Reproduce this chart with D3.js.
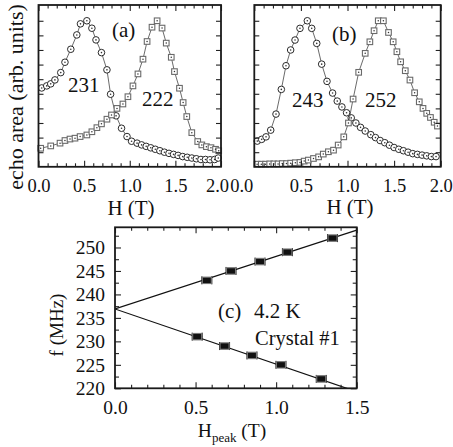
<!DOCTYPE html>
<html><head><meta charset="utf-8">
<script src="https://cdn.jsdelivr.net/npm/d3@7"></script>
<style>
body{margin:0;background:#fff}
</style>
</head><body>
<svg id="chart" width="453" height="447"></svg>
<script>
// ---------- data ----------
// panel (a): 231 MHz (circles) and 222 MHz (squares), normalised echo area vs H (T)
const a231H = [0.035,0.09,0.134,0.18,0.244,0.29,0.354,0.42,0.46,0.53,0.585,0.63,0.69,0.75,0.79,0.85,0.91,0.97,1.02,1.08,1.13,1.18,1.23,1.28,1.33,1.38,1.43,1.48,1.53,1.58,1.63,1.68,1.73,1.78,1.83,1.88,1.93,1.97];
const a231V = [0.54,0.554,0.568,0.595,0.645,0.716,0.805,0.903,0.979,1.0,0.949,0.869,0.782,0.664,0.497,0.349,0.264,0.207,0.175,0.162,0.15,0.14,0.13,0.12,0.11,0.1,0.092,0.085,0.078,0.07,0.065,0.06,0.055,0.05,0.05,0.048,0.05,0.06];
const a222H = [0.024,0.134,0.236,0.29,0.345,0.40,0.456,0.53,0.585,0.64,0.69,0.75,0.80,0.86,0.925,0.98,1.035,1.09,1.145,1.19,1.244,1.30,1.354,1.40,1.455,1.49,1.545,1.585,1.625,1.68,1.745,1.79,1.84,1.89,1.94,1.975];
const a222V = [0.127,0.143,0.162,0.18,0.19,0.196,0.207,0.218,0.24,0.268,0.294,0.326,0.355,0.40,0.43,0.48,0.554,0.636,0.737,0.858,0.956,1.0,0.95,0.847,0.75,0.652,0.538,0.44,0.344,0.234,0.173,0.15,0.138,0.131,0.12,0.11];
// panel (b): 243 MHz (circles) and 252 MHz (squares)
const b243H = [0.032,0.079,0.126,0.176,0.233,0.29,0.34,0.39,0.437,0.49,0.569,0.616,0.67,0.723,0.78,0.84,0.89,0.94,0.99,1.04,1.09,1.14,1.19,1.25,1.30,1.35,1.40,1.45,1.50,1.55,1.60,1.65,1.70,1.75,1.80,1.85,1.90,1.95];
const b243V = [0.176,0.188,0.205,0.251,0.361,0.53,0.692,0.80,0.868,0.948,1.0,0.948,0.845,0.703,0.585,0.505,0.45,0.41,0.37,0.335,0.30,0.27,0.245,0.22,0.20,0.18,0.165,0.148,0.132,0.12,0.11,0.10,0.09,0.085,0.08,0.075,0.07,0.07];
const b252H = [0.03,0.075,0.12,0.165,0.21,0.255,0.30,0.345,0.39,0.44,0.49,0.535,0.58,0.635,0.69,0.74,0.795,0.85,0.90,0.96,1.01,1.06,1.12,1.19,1.24,1.285,1.33,1.385,1.44,1.49,1.53,1.57,1.62,1.67,1.72,1.77,1.81,1.85,1.89,1.93,1.965];
const b252V = [0.018,0.018,0.018,0.02,0.02,0.02,0.022,0.022,0.025,0.028,0.03,0.039,0.046,0.057,0.068,0.087,0.103,0.114,0.149,0.205,0.30,0.464,0.647,0.777,0.856,0.932,1.0,1.0,0.92,0.856,0.788,0.719,0.658,0.594,0.507,0.445,0.40,0.366,0.338,0.305,0.279];
// panel (c): peak field vs frequency
const cUpperH = [0.57,0.72,0.90,1.07,1.35];
const cUpperF = [243,245,247,249,252];
const cLowerH = [0.51,0.68,0.85,1.03,1.28];
const cLowerF = [231,229,227,225,222];
const cErrH = 0.031;
const fitIntercept = 236.9;
const fitSlopes = [11.2, -11.75];
// tick labels
const abXTicks = [0, 0.5, 1.0, 1.5, 2.0];
const cXTicks = [0, 0.5, 1.0, 1.5];
const cYTicks = [220, 225, 230, 235, 240, 245, 250];

// ---------- drawing ----------
const FONT = "Liberation Serif";
const svg = d3.select("#chart");

function styleText(sel, size) {
  return sel.style("font-family", FONT).attr("font-size", size).attr("fill", "#111");
}

function frameAxes(x, y, o) {
  const g = svg.append("g");
  const [x0, x1] = x.range();
  const [yb, yt] = y.range();
  const mk = (axis, tr) => g.append("g").attr("transform", tr).call(axis)
      .call(s => s.select(".domain").remove())
      .call(s => s.selectAll("line").attr("stroke", "#222").attr("stroke-width", 1.1));
  const bx = mk(d3.axisBottom(x).tickValues(o.xMajor).tickSize(-o.maj).tickFormat(o.xFmt), `translate(0,${yb})`);
  styleText(bx.selectAll("text").attr("y", o.xLabelDy).attr("dy", 0), o.tickFont);
  mk(d3.axisBottom(x).tickValues(o.xMinor).tickSize(-o.min).tickFormat(""), `translate(0,${yb})`);
  mk(d3.axisTop(x).tickValues(o.xMajor).tickSize(-o.maj).tickFormat(""), `translate(0,${yt})`);
  mk(d3.axisTop(x).tickValues(o.xMinor).tickSize(-o.min).tickFormat(""), `translate(0,${yt})`);
  const ly = mk(d3.axisLeft(y).tickValues(o.yMajor).tickSize(-o.ymaj).tickFormat(o.yFmt || ""), `translate(${x0},0)`);
  styleText(ly.selectAll("text").attr("x", -10), o.tickFont);
  mk(d3.axisRight(y).tickValues(o.yMajor).tickSize(-o.ymaj).tickFormat(""), `translate(${x1},0)`);
  if (o.yMinor) {
    mk(d3.axisLeft(y).tickValues(o.yMinor).tickSize(-o.ymin).tickFormat(""), `translate(${x0},0)`);
    mk(d3.axisRight(y).tickValues(o.yMinor).tickSize(-o.ymin).tickFormat(""), `translate(${x1},0)`);
  }
  g.append("rect").attr("x", x0).attr("y", yt).attr("width", x1 - x0).attr("height", yb - yt)
    .attr("fill", "none").attr("stroke", "#1a1a1a").attr("stroke-width", 1.8);
  return bx;
}

function series(x, y, H, V, kind) {
  const g = svg.append("g");
  const pts = H.map((h, i) => [x(h), y(V[i])]);
  g.append("path").attr("d", d3.line()(pts)).attr("fill", "none").attr("stroke", "#444").attr("stroke-width", 0.8);
  if (kind === "circle") {
    g.selectAll("circle.m").data(pts).join("circle").attr("class", "m")
      .attr("cx", d => d[0]).attr("cy", d => d[1]).attr("r", 3.3)
      .attr("fill", "#fff").attr("stroke", "#2a2a2a").attr("stroke-width", 1);
    g.selectAll("circle.d").data(pts).join("circle").attr("class", "d")
      .attr("cx", d => d[0]).attr("cy", d => d[1]).attr("r", 0.8).attr("fill", "#333");
  } else {
    const s = 5.6;
    g.selectAll("rect.m").data(pts).join("rect").attr("class", "m")
      .attr("x", d => d[0] - s / 2).attr("y", d => d[1] - s / 2).attr("width", s).attr("height", s)
      .attr("fill", "#fff").attr("stroke", "#6a6a6a").attr("stroke-width", 1.1);
    g.selectAll("circle.d").data(pts).join("circle").attr("class", "d")
      .attr("cx", d => d[0]).attr("cy", d => d[1]).attr("r", 0.75).attr("fill", "#333");
  }
}

function txt(x, y, s, size, anchor) {
  return styleText(svg.append("text").attr("x", x).attr("y", y)
    .attr("text-anchor", anchor || "start").text(s), size);
}

const range01 = (a, b, st) => d3.range(Math.round((b - a) / st) + 1).map(i => +(a + i * st).toFixed(3));
const abOpts = {
  xMajor: abXTicks, xMinor: range01(0, 2, 0.1).filter(v => !abXTicks.includes(v)),
  xFmt: d3.format(".1f"), maj: 6, min: 3.5, yMajor: range01(0.1, 1.0, 0.1), ymaj: 5,
  xLabelDy: 25, tickFont: 18.5
};

// panel (a)
const xa = d3.scaleLinear().domain([0, 2]).range([38.5, 221]);
const ya = d3.scaleLinear().domain([0, 1.108]).range([166.8, 5]);
series(xa, ya, a231H, a231V, "circle");
series(xa, ya, a222H, a222V, "square");
const axAxis = frameAxes(xa, ya, abOpts);
axAxis.selectAll(".tick").filter(d => d === 2).select("text").attr("x", -4);
txt(112, 37, "(a)", 21);
txt(68, 92, "231", 21);
txt(142, 106, "222", 21);
txt(131, 215, "H (T)", 21, "middle");
styleText(svg.append("text").attr("transform", "translate(23,97) rotate(-90)").attr("text-anchor", "middle")
  .text("echo area (arb. units)"), 22);

// panel (b)
const xb = d3.scaleLinear().domain([0, 2]).range([254.3, 440.7]);
const yb = d3.scaleLinear().domain([0, 1.108]).range([166.8, 5]);
series(xb, yb, b243H, b243V, "circle");
series(xb, yb, b252H, b252V, "square");
const bxAxis = frameAxes(xb, yb, abOpts);
bxAxis.selectAll(".tick").filter(d => d === 0).select("text").attr("x", -13);
txt(332, 41, "(b)", 21);
txt(292, 107, "243", 21);
txt(365, 107, "252", 21);
txt(350, 214, "H (T)", 21, "middle");

// panel (c)
const xc = d3.scaleLinear().domain([0, 1.5]).range([115, 356.7]);
const yc = d3.scaleLinear().domain([220, 254.3]).range([388.3, 227.3]);
svg.append("defs").append("clipPath").attr("id", "clipc").append("rect")
  .attr("x", 115).attr("y", 227.3).attr("width", 241.7).attr("height", 161);
const lines = svg.append("g").attr("clip-path", "url(#clipc)");
fitSlopes.forEach(s => {
  lines.append("line").attr("x1", xc(0)).attr("y1", yc(fitIntercept))
    .attr("x2", xc(1.5)).attr("y2", yc(fitIntercept + s * 1.5))
    .attr("stroke", "#111").attr("stroke-width", 1.2);
});
function cPoints(H, F) {
  const g = svg.append("g");
  H.forEach((h, i) => {
    const cx = xc(h), cy = yc(F[i]);
    const xl = xc(h - cErrH), xr = xc(h + cErrH);
    g.append("line").attr("x1", xl).attr("x2", xr).attr("y1", cy).attr("y2", cy).attr("stroke", "#111").attr("stroke-width", 1);
    [xl, xr].forEach(xx => g.append("line").attr("x1", xx).attr("x2", xx).attr("y1", cy - 4).attr("y2", cy + 4).attr("stroke", "#111").attr("stroke-width", 1));
    g.append("rect").attr("x", cx - 4.5).attr("y", cy - 3.2).attr("width", 9).attr("height", 6.4)
      .attr("fill", "#111").attr("stroke", "#777").attr("stroke-width", 1.1);
  });
}
cPoints(cUpperH, cUpperF);
cPoints(cLowerH, cLowerF);
frameAxes(xc, yc, {
  xMajor: cXTicks, xMinor: range01(0, 1.5, 0.1).filter(v => !cXTicks.includes(v)),
  xFmt: d3.format(".1f"), maj: 6, min: 3.5,
  yMajor: cYTicks, yMinor: range01(222.5, 252.5, 5), ymaj: 6, ymin: 4,
  yFmt: d3.format("d"), xLabelDy: 26, tickFont: 19.5
});
txt(218, 318, "(c)", 21);
txt(254, 318, "4.2 K", 21);
txt(255, 345, "Crystal #1", 20.5);
styleText(svg.append("text").attr("transform", "translate(63,325) rotate(-90)").attr("text-anchor", "middle")
  .text("f (MHz)"), 19);
const hp = styleText(svg.append("text").attr("x", 232).attr("y", 436.5).attr("text-anchor", "middle"), 19.5);
hp.append("tspan").text("H");
hp.append("tspan").attr("font-size", 13).attr("dy", 5).text("peak");
hp.append("tspan").attr("dy", -5).text(" (T)");
</script>
</body></html>
